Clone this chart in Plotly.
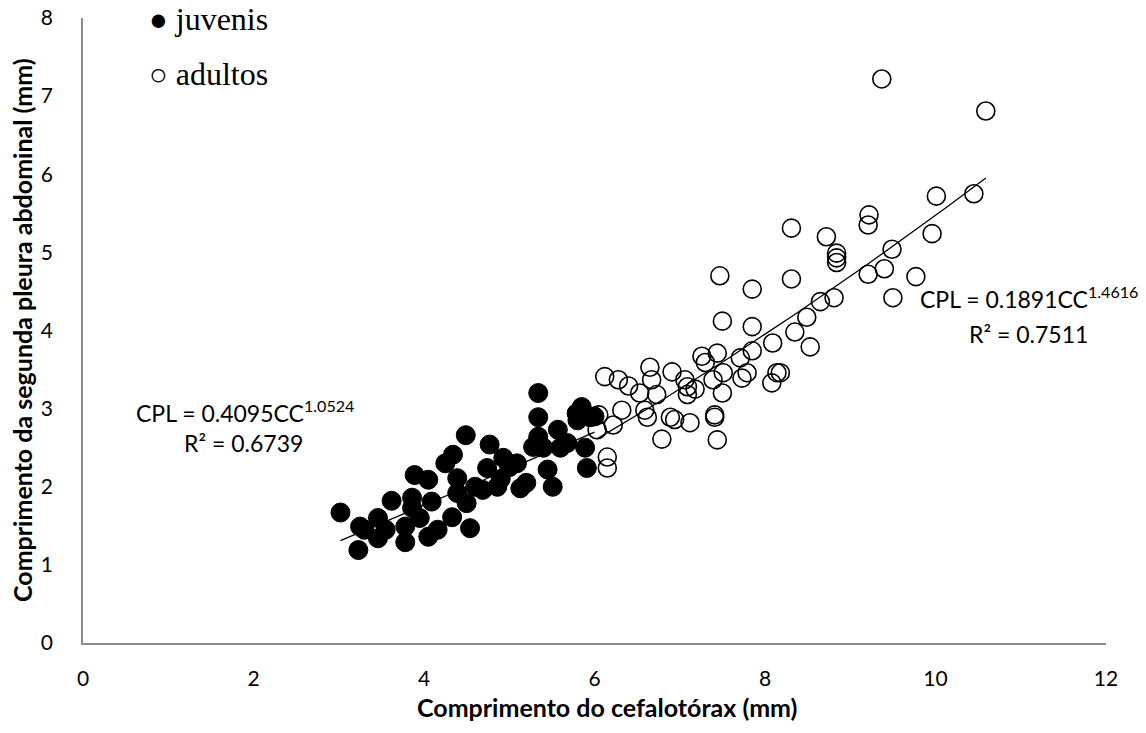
import numpy as np
import plotly.graph_objects as go

# Juvenile (filled) points
juv_x = [3.02, 3.23, 3.25, 3.46, 3.46, 3.62, 3.78, 3.78, 3.86, 3.86, 3.89, 4.05, 4.05, 4.09,
         4.16, 4.25, 4.33, 4.34, 4.39, 4.39, 4.49, 4.50, 4.54, 4.69, 4.74, 4.77, 4.86, 4.93,
         5.09, 5.13, 5.28, 5.34, 5.34, 5.34, 5.45, 5.51, 5.57, 5.68, 5.79, 5.85, 5.89, 5.91,
         5.95, 4.60, 4.90, 5.20, 5.00, 5.40, 5.60, 5.80, 3.30, 3.55, 3.95, 6.00]
juv_y = [1.67, 1.19, 1.49, 1.60, 1.34, 1.82, 1.29, 1.49, 1.86, 1.73, 2.15, 2.09, 1.36, 1.81,
         1.45, 2.30, 1.61, 2.41, 1.92, 2.11, 2.66, 1.79, 1.47, 1.96, 2.24, 2.54, 2.00, 2.37,
         2.30, 1.98, 2.51, 3.20, 2.89, 2.64, 2.22, 2.00, 2.73, 2.56, 2.94, 3.02, 2.50, 2.24,
         2.89, 2.00, 2.10, 2.05, 2.25, 2.50, 2.50, 2.85, 1.45, 1.45, 1.60, 2.90]

# Adult (open) points
adu_x = [9.37, 10.59, 10.01, 10.45, 9.22, 9.21, 8.31, 8.72, 8.84, 8.84, 8.84, 9.49, 9.96,
         8.31, 7.85, 9.21, 9.40, 9.77, 9.50, 8.65, 8.81, 8.49, 7.85, 8.35, 7.47, 7.50, 8.09,
         8.53, 7.85, 7.71, 7.44, 7.26, 7.30, 7.51, 7.39, 7.50, 7.73, 7.79, 8.08, 8.14, 8.18,
         6.12, 6.28, 6.40, 6.53, 6.65, 6.67, 6.73, 6.91, 7.06, 7.09, 7.09, 7.18, 6.32, 6.59,
         6.62, 6.79, 6.89, 6.94, 7.12, 7.41, 7.44, 7.41, 6.15, 6.15, 6.22, 6.03, 6.05]
adu_y = [7.22, 6.81, 5.72, 5.75, 5.48, 5.35, 5.31, 5.20, 4.99, 4.93, 4.87, 5.04, 5.24,
         4.66, 4.53, 4.72, 4.79, 4.69, 4.42, 4.37, 4.42, 4.17, 4.05, 3.98, 4.70, 4.12, 3.84,
         3.79, 3.74, 3.65, 3.71, 3.67, 3.59, 3.46, 3.37, 3.20, 3.39, 3.46, 3.33, 3.46, 3.46,
         3.41, 3.37, 3.29, 3.20, 3.53, 3.37, 3.18, 3.47, 3.37, 3.28, 3.18, 3.25, 2.98, 2.98,
         2.89, 2.61, 2.89, 2.86, 2.82, 2.92, 2.60, 2.89, 2.38, 2.24, 2.79, 2.73, 2.92]

# Power-law fits (from the chart labels)
juv_a, juv_b = 0.4095, 1.0524
adu_a, adu_b = 0.1891, 1.4616
juv_r2, adu_r2 = 0.6739, 0.7511

x_ticks = [0, 2, 4, 6, 8, 10, 12]
y_ticks = [0, 1, 2, 3, 4, 5, 6, 7, 8]

fig = go.Figure()

fig.add_trace(go.Scatter(
    x=juv_x, y=juv_y, mode="markers", name="juvenis",
    marker=dict(size=19, color="black", line=dict(color="black", width=1)),
))
fig.add_trace(go.Scatter(
    x=adu_x, y=adu_y, mode="markers", name="adultos",
    marker=dict(size=18, color="rgba(255,255,255,0)", line=dict(color="black", width=1.6)),
))

jx = np.linspace(min(juv_x), max(juv_x), 60)
fig.add_trace(go.Scatter(x=jx, y=juv_a * jx ** juv_b, mode="lines",
                         line=dict(color="black", width=1.3), showlegend=False))
ax = np.linspace(min(adu_x), max(adu_x), 60)
fig.add_trace(go.Scatter(x=ax, y=adu_a * ax ** adu_b, mode="lines",
                         line=dict(color="black", width=1.3), showlegend=False))

SANS = "Lato, Open Sans, sans-serif"
tick_font = dict(family=SANS, size=21, color="black")

fig.update_layout(
    width=1146, height=733,
    margin=dict(l=75, r=48, t=10, b=98),
    paper_bgcolor="white", plot_bgcolor="white",
    showlegend=False,
    xaxis=dict(range=[0, 12], tickvals=x_ticks, showgrid=False, zeroline=False,
               showline=True, linecolor="#8c8c8c", linewidth=1.5, ticks="",
               tickfont=tick_font, ticklabelstandoff=16, automargin=False,
               ticklabeloverflow="allow"),
    yaxis=dict(range=[0, 8], tickvals=y_ticks, showgrid=False, zeroline=False,
               showline=True, linecolor="#8c8c8c", linewidth=1.5, ticks="",
               tickfont=tick_font, ticklabelstandoff=24, automargin=False,
               ticklabeloverflow="allow"),
)


def px_to_paper(px, py):
    # screen pixel of reference -> paper coords (plot area 83..1106 x 18..643)
    return (px - 83) / (1106 - 83), (643 - py) / (643 - 18)


# Axis titles
xp, yp = px_to_paper(607, 707)
fig.add_annotation(x=xp, y=yp, xref="paper", yref="paper",
                   text="<b>Comprimento do cefalotórax (mm)</b>", showarrow=False,
                   font=dict(family=SANS, size=25, color="black"),
                   xanchor="center", yanchor="middle")
xp, yp = px_to_paper(22, 330)
fig.add_annotation(x=xp, y=yp, xref="paper", yref="paper", textangle=-90,
                   text="<b>Comprimento da segunda pleura abdominal (mm)</b>", showarrow=False,
                   font=dict(family=SANS, size=25, color="black"),
                   xanchor="center", yanchor="middle")

ann_font = dict(family=SANS, size=23, color="black")
for text, (px, py) in [
    (f"CPL = {juv_a}CC<sup>{juv_b}</sup>", (245, 411)),
    (f"R² = {juv_r2}", (243, 443)),
    (f"CPL = {adu_a}CC<sup>{adu_b}</sup>", (1029, 297)),
    (f"R² = {adu_r2}", (1028, 334)),
]:
    xp, yp = px_to_paper(px, py)
    fig.add_annotation(x=xp, y=yp, xref="paper", yref="paper", text=text,
                       showarrow=False, font=ann_font, xanchor="center", yanchor="middle")

leg_font = dict(family="Liberation Serif, Times New Roman, serif", size=32, color="black")
for text, (px, py) in [
    ("<span style='font-size:31px'>●</span> juvenis", (147, 19)),
    ("<span style='font-size:31px'>○</span> adultos", (147, 74)),
]:
    xp, yp = px_to_paper(px, py)
    fig.add_annotation(x=xp, y=yp, xref="paper", yref="paper", text=text,
                       showarrow=False, font=leg_font, xanchor="left", yanchor="middle")

fig.write_html("out.html")
